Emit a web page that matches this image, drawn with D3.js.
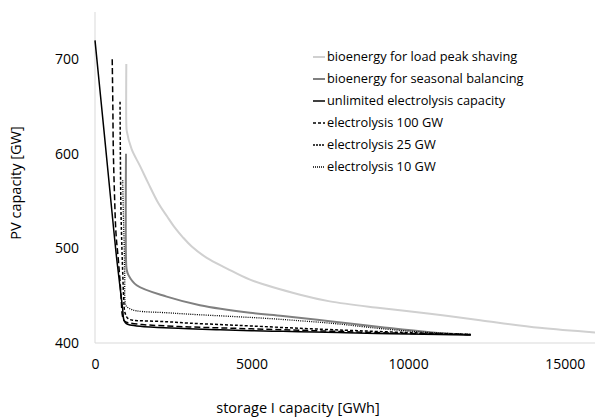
<!DOCTYPE html>
<html><head><meta charset="utf-8">
<script src="https://cdn.jsdelivr.net/npm/d3@7"></script>
<style>body{margin:0;background:#fff}svg{display:block}text{font-family:"Open Sans",sans-serif;fill:#000}</style>
</head><body>
<script>
const xTicks = [0, 5000, 10000, 15000];
const yTicks = [400, 500, 600, 700];
const xLabel = "storage I capacity [GWh]";
const yLabel = "PV capacity [GW]";

const seriesNames = [
  "bioenergy for load peak shaving",
  "bioenergy for seasonal balancing",
  "unlimited electrolysis capacity",
  "electrolysis 100 GW",
  "electrolysis 25 GW",
  "electrolysis 10 GW"
];

const peakShaving = [[1000,695],[1000,632],[1015,624],[1170,605],[1440,587],[1700,569],[2020,548],[2300,534],[2550,522],[2800,512],[3090,502],[3570,490],[4200,479],[4950,467],[6550,451],[7500,444],[9100,437],[10700,431],[12300,424],[14200,416],[16000,411]];
const seasonal = [[990,600],[990,490],[1010,478],[1065,472],[1330,461],[2290,449],[3350,440],[4950,432],[6000,428.5],[7500,423],[9100,417],[10700,411.5],[12000,408.5]];
const unlimited = [[0,720],[300,620],[600,519],[700,487],[800,459],[880,437],[926,424],[1000,420.5],[1120,419],[1500,417.5],[2000,416.5],[3000,415],[4000,414],[5000,413],[6000,412.3],[7000,411.5],[8000,410.8],[9000,410],[10000,409.5],[11000,409],[12000,408.5]];
const elec100 = [[550,700],[570,650],[585,604],[620,560],[670,516],[740,490],[800,465],[840,445],[870,430],[920,424],[1000,422],[1120,421],[1500,419.5],[2000,418.5],[3000,417],[4000,416],[5000,415],[6000,414],[7000,413],[8000,412],[9000,411],[10000,410.2],[11000,409.5],[12000,409]];
const elec25 = [[800,655],[810,600],[830,540],[860,500],[890,470],[920,445],[958,432],[1050,426],[1220,424],[1500,423.5],[2290,422.5],[3000,421],[4000,419.5],[5000,418],[6550,415.5],[8000,413.5],[9000,412.2],[10000,411],[11000,410],[12000,409]];
const elec10 = [[885,572],[910,530],[935,500],[950,470],[958,445],[1000,439],[1100,436.5],[1330,434],[2290,432],[3000,430.5],[4410,428],[5500,426],[6550,423.5],[7500,421],[8500,417.5],[9100,415.3],[10000,412.6],[11000,410.5],[12000,409]];

const seriesData = [peakShaving, seasonal, unlimited, elec100, elec25, elec10];
const seriesColors = ["#d0d0d0", "#808080", "#000000", "#000000", "#000000", "#000000"];
const seriesWidths = [2, 2, 1.5, 1.5, 1.5, 1.3];
const seriesDash = [null, null, null, "6,3", "3,2", "1,1.2"];
const legendDash = [null, null, null, "3,2", "2,1", "1,1"];

const W = 595, H = 418;
const svg = d3.select("body").append("svg").attr("width", W).attr("height", H);
const x = d3.scaleLinear().domain([0, 16000]).range([95, 596]);
const y = d3.scaleLinear().domain([400, 750]).range([343, 12]);

svg.append("line").attr("x1", x(0)).attr("x2", x(16000)).attr("y1", y(400)).attr("y2", y(400)).attr("stroke", "#d9d9d9").attr("stroke-width", 1);
svg.append("line").attr("x1", x(0)).attr("x2", x(0)).attr("y1", y(400)).attr("y2", y(750)).attr("stroke", "#d9d9d9").attr("stroke-width", 1);

const xAxis = d3.axisBottom(x).tickValues(xTicks).tickSize(0).tickPadding(16).tickFormat(d3.format("d"));
const gx = svg.append("g").attr("transform", `translate(0,${y(400)})`).call(xAxis);
gx.select(".domain").remove();
gx.selectAll("text").style("font-size", "14px").style("font-family", "'Open Sans',sans-serif");

const yAxis = d3.axisLeft(y).tickValues(yTicks).tickSize(0).tickPadding(16).tickFormat(d3.format("d"));
const gy = svg.append("g").attr("transform", `translate(${x(0)},0)`).call(yAxis);
gy.select(".domain").remove();
gy.selectAll("text").style("font-size", "14px").style("font-family", "'Open Sans',sans-serif");

svg.append("text").attr("x", 298).attr("y", 413).attr("text-anchor", "middle").style("font-size", "14.5px").text(xLabel);
svg.append("text").attr("transform", "translate(21,183) rotate(-90)").attr("text-anchor", "middle").style("font-size", "14.5px").text(yLabel);

const line = d3.line().x(d => x(d[0])).y(d => y(d[1])).curve(d3.curveCatmullRom.alpha(0.5));
const drawOrder = [0, 1, 5, 4, 3, 2];
drawOrder.forEach(i => {
  svg.append("path").datum(seriesData[i]).attr("d", line)
    .attr("fill", "none").attr("stroke", seriesColors[i]).attr("stroke-width", seriesWidths[i])
    .attr("stroke-dasharray", seriesDash[i]);
});

const lg = svg.append("g");
seriesNames.forEach((n, i) => {
  const cy = 57 + i * 22;
  lg.append("line").attr("x1", 313).attr("x2", 325).attr("y1", cy).attr("y2", cy)
    .attr("stroke", seriesColors[i]).attr("stroke-width", seriesWidths[i]).attr("stroke-dasharray", legendDash[i]);
  lg.append("text").attr("x", 327).attr("y", cy).attr("dy", "0.35em").style("font-size", "12.8px").text(n);
});
</script>
</body></html>
